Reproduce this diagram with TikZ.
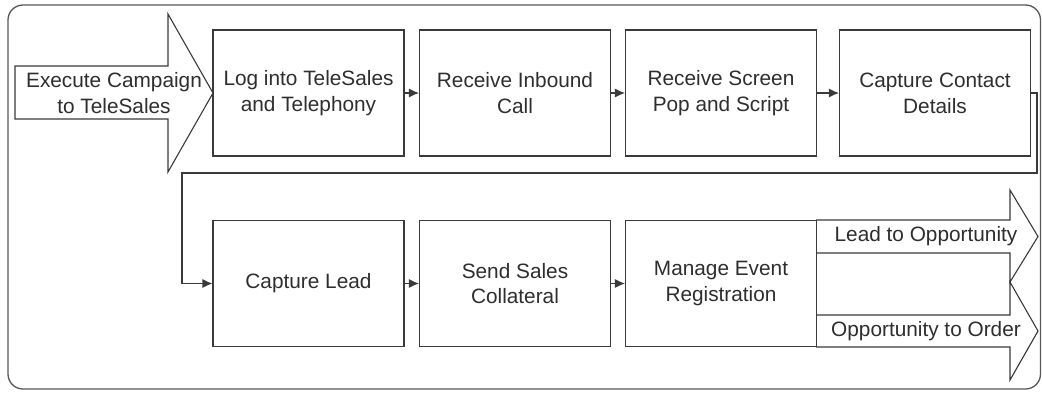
\documentclass[tikz,border=0pt]{standalone}
\usepackage{fontspec}
\setmainfont{Liberation Sans}
\usetikzlibrary{arrows.meta}
\definecolor{ln}{HTML}{3A3A3A}
\definecolor{tx}{HTML}{2E2E2E}
\tikzset{
  stepbox/.style={draw=ln, line width=1.1pt, minimum width=191pt, minimum height=126pt,
    inner sep=0pt, align=center, text=tx, font=\fontsize{20.8}{25.8}\selectfont},
  lbl/.style={align=center, text=tx, inner sep=0pt, font=\fontsize{20.8}{25.8}\selectfont},
  bigarrow/.style={draw=ln, line width=1.1pt, fill=white, line join=miter},
  arr/.style={draw=ln, line width=1.1pt, -{Latex[length=10pt,width=9pt]}},
  frame/.style={draw=ln!85, line width=1.3pt, rounded corners=15pt}
}
\begin{document}
\begin{tikzpicture}[x=1pt,y=-1pt]
\useasboundingbox (0,0) rectangle (1042,392);
\draw[frame] (8,5) rectangle (1040.5,389);
% campaign arrow
\draw[bigarrow] (15,66) -- (168,66) -- (168,14) -- (213,93) -- (168,172) -- (168,119) -- (15,119) -- cycle;
\node[lbl] (camp) at (114,93) {Execute Campaign\\to TeleSales};
% row 1
\node[stepbox] (b1) at (308.5,93) {Log into TeleSales\\and Telephony};
\node[stepbox] (b2) at (515,93) {Receive Inbound\\Call};
\node[stepbox] (b3) at (721,93) {Receive Screen\\Pop and Script};
\node[stepbox] (b4) at (935,93) {Capture Contact\\Details};
% result arrows
\draw[bigarrow] (816,220) -- (1010,220) -- (1010,190) -- (1038,236.5) -- (1010,282) -- (1010,253) -- (816,253);
\draw[bigarrow] (816,315) -- (1010,315) -- (1010,282) -- (1038,331) -- (1010,380) -- (1010,347) -- (816,347);
\node[lbl] (lo) at (926,236.5) {Lead to Opportunity};
\node[lbl] (oo) at (926,331) {Opportunity to Order};
% row 2
\node[stepbox] (c1) at (308.5,283.5) {Capture Lead};
\node[stepbox] (c2) at (515,283.5) {Send Sales\\Collateral};
\node[stepbox] (c3) at (721,283.5) {Manage Event\\Registration};
% connectors
\draw[arr] (b1) -- (b2);
\draw[arr] (b2) -- (b3);
\draw[arr] (b3) -- (b4);
\coordinate (t1) at (1037,93);
\coordinate (t2) at (182,173);
\draw[arr] (b4.east) -- (t1) |- (t2) |- (c1.west);
\draw[arr] (c1) -- (c2);
\draw[arr] (c2) -- (c3);
\end{tikzpicture}
\end{document}
